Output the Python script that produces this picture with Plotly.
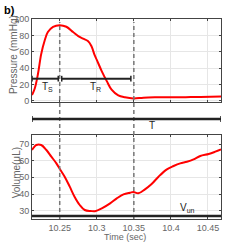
import plotly.graph_objects as go
from plotly.subplots import make_subplots

# Pressure trace
t_p = [10.2126, 10.2163, 10.2207, 10.225, 10.2298, 10.234, 10.241, 10.25, 10.259, 10.268,
       10.275, 10.2815, 10.288, 10.2927, 10.297, 10.300, 10.3068, 10.3135, 10.320, 10.329,
       10.338, 10.3495, 10.363, 10.381, 10.40, 10.42, 10.44, 10.4676]
pressure = [7, 15, 33, 57, 74, 84, 90.5, 92.5, 90.5, 84,
            79, 76, 73, 67, 56, 50, 36, 24, 13.5, 6.5,
            4.2, 2.8, 3.8, 4.2, 4.3, 4.4, 4.7, 5.2]

# Volume trace
t_v = [10.2126, 10.2184, 10.225, 10.232, 10.2387, 10.2455, 10.251, 10.2567, 10.2635, 10.27,
       10.277, 10.2838, 10.292, 10.2977, 10.3068, 10.318, 10.327, 10.336, 10.345, 10.3495,
       10.356, 10.365, 10.374, 10.3833, 10.3946, 10.4036, 10.4126, 10.4216, 10.4306, 10.4396,
       10.451, 10.4599, 10.4676]
volume = [66.4, 69.4, 69.4, 66.4, 62.4, 58.4, 54.4, 50.4, 44.4, 38.4,
          33.4, 30.4, 29.8, 29.7, 31.4, 34.4, 37.4, 39.8, 40.8, 41.2,
          40.4, 42.8, 46.0, 50.4, 54.8, 56.8, 58.4, 59.4, 60.8, 62.8,
          64.0, 65.4, 66.8]

x_range = [10.2126, 10.4676]
x_ticks = [10.25, 10.3, 10.35, 10.4, 10.45]
x_ticklabels = ["10.25", "10.3", "10.35", "10.4", "10.45"]
p_ticks = [0, 20, 40, 60, 80, 100]
v_ticks = [30, 40, 50, 60, 70]
events = [10.25, 10.35]
ts_span = [10.2126, 10.248]
tr_span = [10.2527, 10.346]
bar_p = 27
v_un = 26.8

fig = make_subplots(rows=2, cols=1, vertical_spacing=0.165)
red = "#ff0000"
fig.add_trace(go.Scatter(x=t_p, y=pressure, mode="lines", line=dict(color=red, width=2, shape="spline"),
                         showlegend=False), row=1, col=1)
fig.add_trace(go.Scatter(x=t_v, y=volume, mode="lines", line=dict(color=red, width=2, shape="spline"),
                         showlegend=False), row=2, col=1)

axis_common = dict(showline=True, mirror="ticks", linecolor="#444", linewidth=1, ticks="inside",
                   ticklen=2, tickcolor="#444", gridcolor="#e6e6e6", zeroline=False,
                   tickfont=dict(family="Liberation Sans, Arial", size=9, color="#666"))
fig.update_xaxes(range=x_range, tickvals=x_ticks, ticktext=x_ticklabels, **axis_common)
fig.update_xaxes(showticklabels=False, row=1, col=1)
fig.update_yaxes(range=[-1.5, 100], tickvals=p_ticks, row=1, col=1, **axis_common)
fig.update_yaxes(range=[25, 75.4], tickvals=v_ticks, row=2, col=1, **axis_common)
fig.update_xaxes(domain=[0, 1])
fig.update_yaxes(domain=[0.585, 1], row=1, col=1)
fig.update_yaxes(domain=[0, 0.42], row=2, col=1)

black = "#222"
# event dashed lines across both panels
for e in events:
    fig.add_shape(type="line", xref="x", yref="paper", x0=e, x1=e, y0=0, y1=0.985,
                  line=dict(color="#777", width=1.5, dash="4px,3px"))

# Ts and TR bars
for span in (ts_span, tr_span):
    fig.add_shape(type="line", xref="x", yref="y", x0=span[0], x1=span[1], y0=bar_p, y1=bar_p,
                  line=dict(color=black, width=2))
    for xe in span:
        fig.add_shape(type="line", xref="x", yref="y", x0=xe, x1=xe, y0=bar_p - 3.5, y1=bar_p + 3.5,
                      line=dict(color=black, width=1.5))

# T bar between panels
fig.add_shape(type="line", xref="x", yref="paper", x0=x_range[0], x1=x_range[1], y0=0.5, y1=0.5,
              line=dict(color=black, width=2.5))
for xe in x_range:
    fig.add_shape(type="line", xref="x", yref="paper", x0=xe, x1=xe, y0=0.485, y1=0.515,
                  line=dict(color=black, width=1.5))

# Vun line
fig.add_shape(type="line", xref="x2", yref="y2", x0=x_range[0], x1=x_range[1], y0=v_un, y1=v_un,
              line=dict(color=black, width=2.5))

ctr = dict(showarrow=False, xanchor="center", yanchor="middle")
lab = dict(family="Liberation Sans, Arial", size=10, color="#222")
fig.add_annotation(x=10.233, y=17, xref="x", yref="y", text="T<sub>S</sub>", font=lab, **ctr)
fig.add_annotation(x=10.298, y=17, xref="x", yref="y", text="T<sub>R</sub>", font=lab, **ctr)
fig.add_annotation(x=10.375, y=0.47, xref="x", yref="paper", text="T", font=lab, **ctr)
fig.add_annotation(x=10.422, y=31.6, xref="x2", yref="y2", text="V<sub>un</sub>", font=lab, **ctr)

title_font = dict(family="Liberation Sans, Arial", size=10, color="#666")
fig.add_annotation(x=-0.1, y=0.82, xref="paper", yref="paper", text="Pressure (mmHg)", textangle=-90,
                   font=title_font, **ctr)
fig.add_annotation(x=-0.083, y=0.23, xref="paper", yref="paper", text="Volume(μL)", textangle=-90,
                   font=title_font, **ctr)
fig.add_annotation(x=0.49, y=-0.09, xref="paper", yref="paper", text="Time (sec)",
                   font=dict(family="Liberation Sans, Arial", size=9, color="#666"), **ctr)
fig.add_annotation(x=-0.12, y=1.045, xref="paper", yref="paper", text="<b>b)</b>",
                   font=dict(family="Liberation Sans, Arial", size=11, color="#000"), **ctr)

fig.update_layout(width=244, height=247, margin=dict(l=32, r=23, t=19, b=28),
                  plot_bgcolor="white", paper_bgcolor="white")
fig.write_html("out.html", config={"displayModeBar": False},
               post_script="document.body.style.margin='0';document.body.style.overflow='hidden';")
